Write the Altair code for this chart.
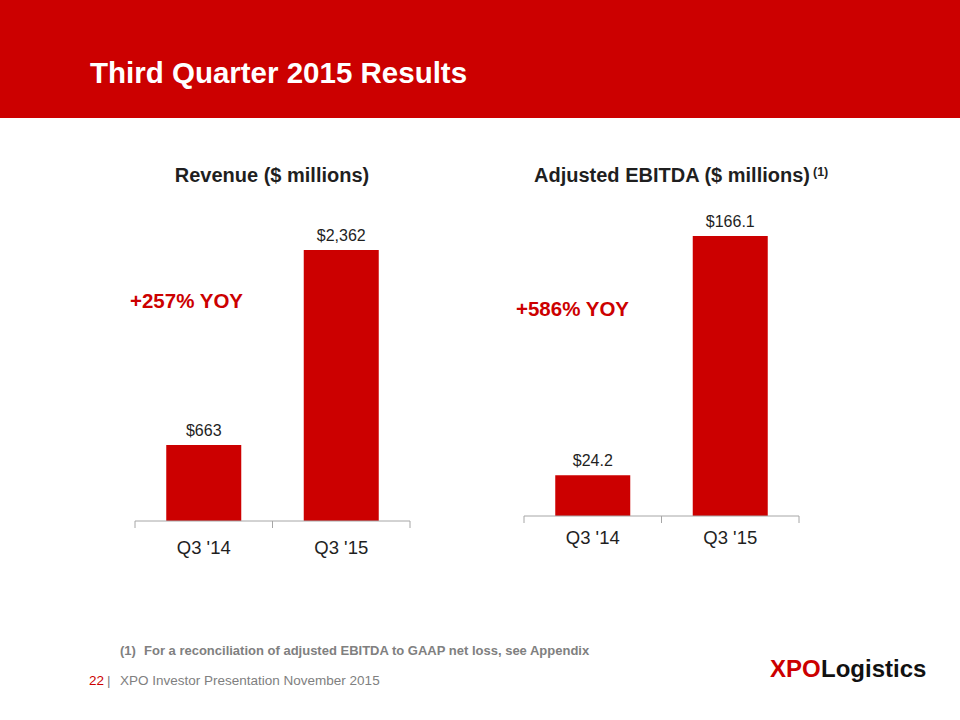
import altair as alt
import pandas as pd

# ---- data ----
quarters = ["Q3 '14", "Q3 '15"]
revenue = [663, 2362]
revenue_labels = ["$663", "$2,362"]
ebitda = [24.2, 166.1]
ebitda_labels = ["$24.2", "$166.1"]

RED = "#CC0000"
DARK = "#1F1F1F"
GRAY = "#808080"
AXIS_GRAY = "#A6A6A6"
FONT = "Liberation Sans"

rev_df = pd.DataFrame({"quarter": quarters, "value": revenue, "label": revenue_labels})
eb_df = pd.DataFrame({"quarter": quarters, "value": ebitda, "label": ebitda_labels})
one = pd.DataFrame({"k": [0]})


def xenc(rng):
    return alt.X("quarter:N",
                 scale=alt.Scale(domain=quarters, range=rng,
                                 paddingInner=0.4545, paddingOuter=0.2273),
                 axis=None)


def yenc(top, rng):
    return alt.Y("value:Q",
                 scale=alt.Scale(domain=[0, top], range=rng, nice=False, zero=True),
                 axis=None)


def txt(s, x, y, size, color, weight="normal", align="left"):
    return alt.Chart(one).mark_text(
        text=s, font=FONT, fontSize=size, color=color, fontWeight=weight,
        align=align, baseline="middle"
    ).encode(x=alt.value(x), y=alt.value(y))


def panel(df, top, xr, yr, axis_y, label_y):
    bars = alt.Chart(df).mark_bar(color=RED).encode(x=xenc(xr), y=yenc(top, yr))
    vals = alt.Chart(df).mark_text(
        font=FONT, fontSize=16, color=DARK, baseline="bottom", dy=-6
    ).encode(x=xenc(xr), y=yenc(top, yr), text="label:N")
    cats = alt.Chart(df).mark_text(
        font=FONT, fontSize=18.5, color=DARK, baseline="middle"
    ).encode(x=xenc(xr), y=alt.value(label_y), text="quarter:N")
    base = alt.Chart(one).mark_rule(color=AXIS_GRAY, strokeWidth=1).encode(
        x=alt.value(xr[0]), x2=alt.value(xr[1]), y=alt.value(axis_y))
    mid = (xr[0] + xr[1]) / 2
    ticks = [alt.Chart(one).mark_rule(color=AXIS_GRAY, strokeWidth=1).encode(
        x=alt.value(t), y=alt.value(axis_y), y2=alt.value(axis_y + 7))
        for t in (xr[0], mid, xr[1])]
    return [bars, vals, cats, base] + ticks


header = alt.Chart(one).mark_rect(color=RED).encode(
    x=alt.value(0), x2=alt.value(960), y=alt.value(0), y2=alt.value(118))

layers = [header,
          txt("Third Quarter 2015 Results", 90, 74, 29.5, "white", "bold"),
          txt("Revenue ($ millions)", 272, 176, 20, DARK, "bold", "center"),
          txt("Adjusted EBITDA ($ millions)", 672, 176, 20, DARK, "bold", "center"),
          txt("(1)", 813, 172, 12.5, DARK, "bold"),
          txt("+257% YOY", 130, 302, 20.5, RED, "bold"),
          txt("+586% YOY", 516, 310, 20.5, RED, "bold")]
layers += panel(rev_df, 2362, [135, 410], [521, 250], 521, 548)
layers += panel(eb_df, 166.1, [524, 799], [516, 236], 516, 538)
layers += [txt("(1)", 120, 651, 13, GRAY, "bold"),
           txt("For a reconciliation of adjusted EBITDA to GAAP net loss, see Appendix",
               144, 651, 13, GRAY, "bold"),
           txt("22", 89, 681, 13.5, RED),
           txt("|", 107, 681, 13.5, GRAY),
           txt("XPO Investor Presentation November 2015", 120, 681, 13.5, GRAY),
           txt("XPO", 770, 670, 24, RED, "bold"),
           txt("Logistics", 821, 670, 24, "#111111", "bold")]

chart = alt.layer(*layers).resolve_scale(
    x="independent", y="independent"
).properties(
    width=960, height=720, padding=0,
    autosize=alt.AutoSizeParams(type="none"),
    background="white"
).configure_view(stroke=None)

chart.save("out.html", embed_options={"renderer": "svg", "actions": False})
